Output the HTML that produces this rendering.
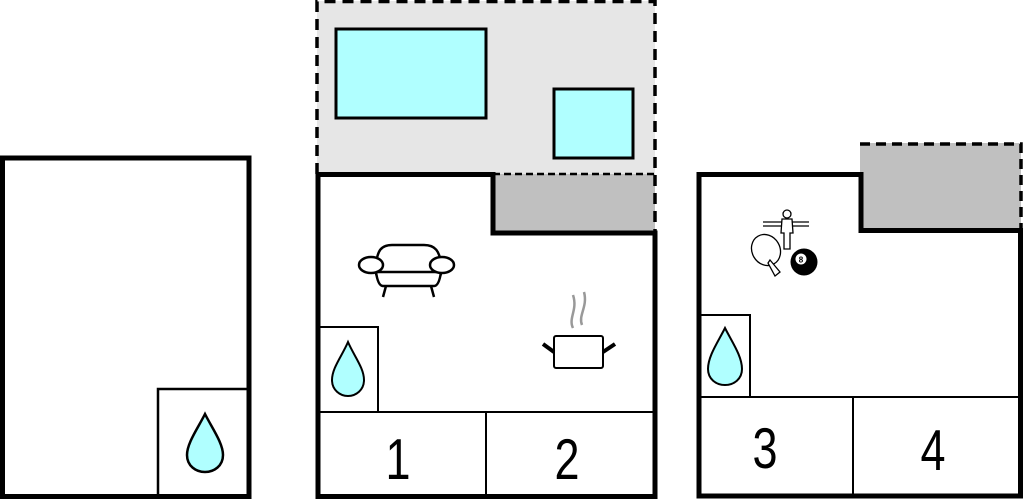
<!DOCTYPE html>
<html><head><style>html,body{margin:0;padding:0;background:#fff}svg{display:block}</style></head><body>
<svg width="1024" height="499" viewBox="0 0 1024 499" xmlns="http://www.w3.org/2000/svg" font-family="Liberation Sans, sans-serif">
<!-- left building -->
<rect x="2.5" y="158" width="246.5" height="338.5" fill="#fff" stroke="#000" stroke-width="5"/>
<path d="M158 496 V389 H249" fill="none" stroke="#000" stroke-width="2.5"/>
<path d="M205 414 C198 428 187 443 187 455 C187 466 196 472 205 472 C214 472 223 466 223 455 C223 443 212 428 205 414Z" fill="#b0ffff" stroke="#000" stroke-width="2.5"/>

<!-- middle building -->
<rect x="317" y="1" width="338" height="173" fill="#e6e6e6"/>
<rect x="493" y="174" width="162" height="59" fill="#c0c0c0"/>
<path d="M317 174 V1.5 H655 V233" fill="none" stroke="#000" stroke-width="3.5" stroke-dasharray="11 7"/>
<path d="M493 174 H655" fill="none" stroke="#000" stroke-width="2.5" stroke-dasharray="7 4"/>
<rect x="336" y="29" width="150" height="89" fill="#b0ffff" stroke="#000" stroke-width="3"/>
<rect x="554" y="89" width="79" height="69" fill="#b0ffff" stroke="#000" stroke-width="3"/>
<path d="M318 496.5 V174.5 H493 V233 H655 V496.5 Z" fill="#fff" stroke="#000" stroke-width="5"/>
<path d="M320 327 H378 V412 M320 412 H654 M486 412 V495" fill="none" stroke="#000" stroke-width="2"/>
<path d="M348 342 C342 356 332 368 332 380 C332 390 340 396 348 396 C356 396 364 390 364 380 C364 368 354 356 348 342Z" fill="#b0ffff" stroke="#000" stroke-width="2"/>
<!-- sofa -->
<g fill="#fff" stroke="#000" stroke-width="2.5">
<path d="M383 280 C376 280 374 270 376 262 C378 252 380 245 392 245 H424 C436 245 439 252 441 262 C443 270 441 280 434 280 Z"/>
<path d="M383 286 Q378 286 376 272 H441 Q439 286 434 286 Z"/>
<ellipse cx="371" cy="265" rx="12" ry="8"/>
<ellipse cx="442" cy="265" rx="12" ry="8"/>
<path d="M386 286 L383 297 M431 286 L434 297" fill="none"/>
</g>
<!-- pot -->
<path d="M573 328 C568 318 578 310 573 295 M582 325 C578 315 588 307 584 292" fill="none" stroke="#999" stroke-width="2.5"/>
<rect x="554" y="336" width="49" height="32" rx="2" fill="#fff" stroke="#000" stroke-width="2"/>
<path d="M543 344 L554 352 M615 344 L603 352" stroke="#000" stroke-width="4"/>

<!-- right building -->
<rect x="860" y="143" width="161" height="88" fill="#c0c0c0"/>
<path d="M860 144 H1021 V231" fill="none" stroke="#000" stroke-width="3.5" stroke-dasharray="10 6"/>
<path d="M699 496 V174.5 H861 V230.5 H1020.5 V496 Z" fill="#fff" stroke="#000" stroke-width="5"/>
<path d="M701 315 H750 V397 M701 397 H1019 M853 397 V495" fill="none" stroke="#000" stroke-width="2"/>
<path d="M725 328 C718 342 708 356 708 369 C708 379 716 385 725 385 C734 385 742 379 742 369 C742 356 732 342 725 328Z" fill="#b0ffff" stroke="#000" stroke-width="2"/>
<!-- games -->
<g stroke="#000" stroke-width="1.3" fill="#fff">
<path d="M763 222 H809 M763 226 H809"/>
<circle cx="787" cy="214" r="4"/>
<path d="M782 219 H792 L793 233 H790 V249 H784 V233 H781 Z"/>
<ellipse cx="766" cy="250" rx="14" ry="16" transform="rotate(-30 766 250)"/>
<path d="M770 260 L780 272 L775 276 L768 263 Z"/>
</g>
<circle cx="804" cy="262" r="13.5" fill="#000"/>
<circle cx="801" cy="259" r="5.5" fill="#fff"/>
<text x="801" y="262.5" font-size="8" font-weight="bold" text-anchor="middle">8</text>

<g font-size="50" text-anchor="middle">
<text transform="translate(398 479) scale(0.9 1.15)">1</text>
<text transform="translate(567 479) scale(0.9 1.15)">2</text>
<text transform="translate(765 468) scale(0.9 1.15)">3</text>
<text transform="translate(933 470) scale(0.9 1.15)">4</text>
</g>
</svg>
</body></html>
